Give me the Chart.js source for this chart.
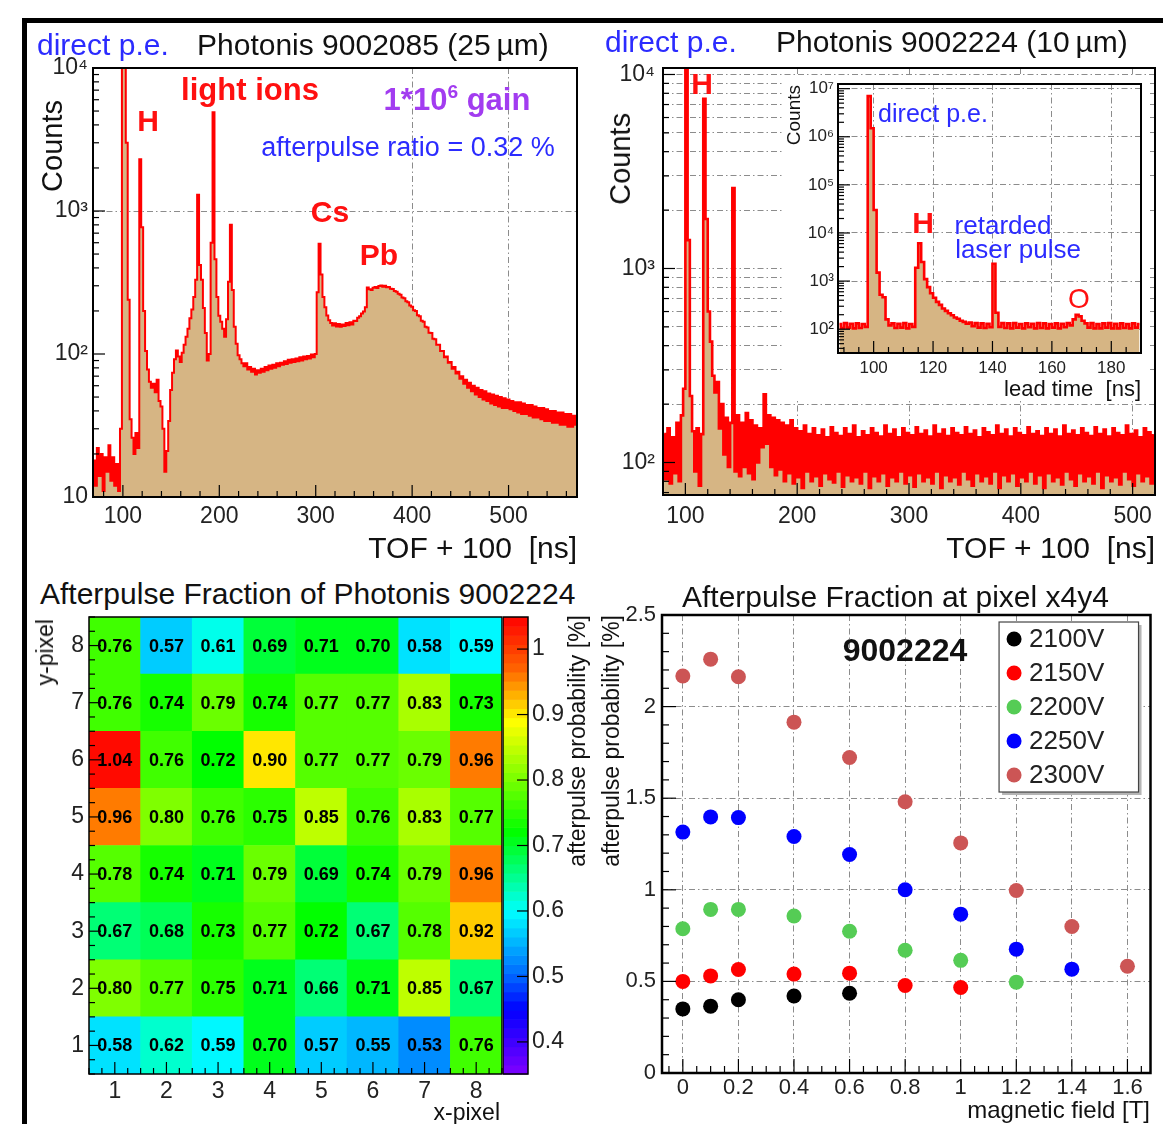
<!DOCTYPE html>
<html>
<head>
<meta charset="utf-8">
<script src="https://cdn.jsdelivr.net/npm/chart.js@4.4.1/dist/chart.umd.min.js"></script>
<style>
html, body { margin: 0; padding: 0; background: #fff; }
body { position: relative; width: 1163px; height: 1124px; overflow: hidden; font-family: "Liberation Sans", Arial, Helvetica, sans-serif; color: #111; }
canvas { position: absolute; }
#inset { background: #fff; }
.t { position: absolute; white-space: nowrap; line-height: 1; }
.c { transform: translate(-50%, -50%); }
.l { transform: translateY(-50%); }
.r { transform: translate(-100%, -50%); }
.v { writing-mode: vertical-rl; transform: rotate(180deg); }
.b { font-weight: bold; }
.red { color: #ff1010; }
.blue { color: #2b2bff; }
.violet { color: #a23cf0; }
sup { font-size: 62%; vertical-align: 0; position: relative; top: -0.6em; }
.bar { position: absolute; background: #000; }
</style>
</head>
<body>
<canvas id="tof1"></canvas>
<canvas id="tof2"></canvas>
<canvas id="inset"></canvas>
<canvas id="heat"></canvas>
<canvas id="cbar"></canvas>
<canvas id="field"></canvas>

<!-- top left -->
<div class="t l blue" style="left:37px;top:45px;font-size:30px">direct p.e.</div>
<div class="t l" style="left:197px;top:45px;font-size:30px">Photonis 9002085 (25&#8201;µm)</div>
<div class="t v" style="left:38px;top:100px;font-size:29px">Counts</div>
<div class="t r" style="left:577px;top:548px;font-size:30px">TOF + 100&nbsp;&nbsp;[ns]</div>
<div class="t c b red" style="left:148px;top:121px;font-size:30px">H</div>
<div class="t c b red" style="left:250px;top:89px;font-size:31px">light ions</div>
<div class="t c b violet" style="left:457px;top:99px;font-size:31px">1*10<sup>6</sup> gain</div>
<div class="t c blue" style="left:408px;top:147px;font-size:27px">afterpulse ratio = 0.32 %</div>
<div class="t c b red" style="left:330px;top:212px;font-size:30px">Cs</div>
<div class="t c b red" style="left:379px;top:255px;font-size:30px">Pb</div>

<!-- top right -->
<div class="t l blue" style="left:605px;top:42px;font-size:30px">direct p.e.</div>
<div class="t l" style="left:776px;top:42px;font-size:30px">Photonis 9002224 (10&#8201;µm)</div>
<div class="t v" style="left:606px;top:113px;font-size:29px">Counts</div>
<div class="t r" style="left:1155px;top:548px;font-size:30px">TOF + 100&nbsp;&nbsp;[ns]</div>
<div class="t c b red" style="left:702px;top:84px;font-size:30px">H</div>
<div class="t v" style="left:784px;top:85px;font-size:19px">Counts</div>
<div class="t c blue" style="left:933px;top:113px;font-size:25px">direct p.e.</div>
<div class="t c b red" style="left:923px;top:223px;font-size:30px">H</div>
<div class="t c blue" style="left:1003px;top:225px;font-size:26px">retarded</div>
<div class="t c blue" style="left:1018px;top:249px;font-size:26px">laser pulse</div>
<div class="t c red" style="left:1079px;top:299px;font-size:28px">O</div>
<div class="t r" style="left:1141px;top:389px;font-size:22px">lead time&nbsp;&nbsp;[ns]</div>

<!-- bottom left -->
<div class="t l" style="left:40px;top:594px;font-size:30px">Afterpulse Fraction of Photonis 9002224</div>
<div class="t v" style="left:34px;top:619px;font-size:23px">y-pixel</div>
<div class="t r" style="left:500px;top:1112px;font-size:23px">x-pixel</div>
<div class="t v" style="left:566px;top:615px;font-size:23px">afterpulse probability [%]</div>

<!-- bottom right -->
<div class="t l" style="left:682px;top:597px;font-size:30px">Afterpulse Fraction at pixel x4y4</div>
<div class="t v" style="left:600px;top:615px;font-size:23px">afterpulse probability [%]</div>
<div class="t r" style="left:1150px;top:1110px;font-size:24px">magnetic field [T]</div>
<div class="t c b" style="left:905px;top:650px;font-size:32px">9002224</div>

<div class="bar" style="left:22px;top:18px;width:1141px;height:5px"></div>
<div class="bar" style="left:22px;top:18px;width:5px;height:1106px"></div>

<script>
// ---- spectra (counts per bin) ----
const tof1Start = 69, tof1Bin = 2;           // TOF + 100 [ns], 9002085
const tof1Counts = [
  18, 12, 22, 14, 20, 11, 19, 15, 23, 13,
  19, 12, 17, 11, 30, 30000, 30000, 3000, 240, 35,
  26, 20, 28, 22, 2300, 770, 200, 105, 78, 64,
  58, 62, 54, 66, 47, 43, 30, 15, 21, 34,
  56, 74, 92, 106, 96, 88, 102, 116, 132, 150,
  178, 205, 250, 330, 1300, 420, 330, 210, 140, 90,
  100, 600, 4900, 460, 250, 185, 168, 150, 132, 175,
  320, 800, 280, 155, 118, 98, 92, 86, 82, 86,
  78, 81, 75, 79, 72, 77, 74, 79, 75, 81,
  77, 83, 79, 84, 80, 86, 82, 87, 84, 89,
  85, 91, 87, 92, 88, 93, 89, 95, 90, 96,
  92, 97, 93, 99, 95, 100, 270, 590, 360, 250,
  212, 186, 172, 165, 158, 164, 156, 162, 155, 161,
  157, 165, 159, 167, 161, 171, 170, 179, 184, 192,
  198, 212, 292, 284, 280, 291, 294, 290, 299, 301,
  295, 300, 293, 294, 286, 285, 276, 273, 264, 260,
  248, 245, 234, 230, 218, 214, 202, 200, 187, 184,
  171, 168, 155, 153, 141, 140, 128, 127, 116, 116,
  105, 105, 95, 96, 87, 88, 79, 81, 73, 75,
  67, 70, 62, 66, 58, 63, 55, 60, 52, 58,
  50, 56, 48, 55, 47, 53, 45, 52, 44, 51,
  43, 50, 42, 49, 42, 48, 41, 47, 40, 46,
  39, 46, 38, 45, 38, 44, 37, 44, 36, 43,
  36, 42, 35, 42, 34, 41, 34, 40, 33, 40,
  33, 39, 32, 39, 32, 38, 31, 38, 31, 37,
  32
];

const tof2Start = 80, tof2Bin = 2;           // TOF + 100 [ns], 9002224
const tof2Counts = [
  140, 82, 150, 78, 135, 88, 160, 80, 175, 240,
  30000, 1400, 220, 145, 90, 150, 76, 140, 7500, 1800,
  600, 420, 280, 230, 260, 150, 200, 110, 170, 95,
  160, 2600, 90, 175, 85, 160, 95, 180, 88, 165,
  82, 155, 100, 150, 120, 225, 125, 175, 95, 170,
  86, 165, 92, 160, 80, 155, 88, 165, 78, 150,
  84, 145, 74, 155, 90, 140, 80, 150, 85, 138,
  76, 148, 88, 135, 82, 152, 79, 142, 90, 137,
  75, 150, 86, 140, 80, 155, 84, 135, 78, 145,
  90, 138, 74, 150, 85, 142, 80, 136, 88, 155,
  76, 140, 84, 148, 80, 135, 90, 150, 78, 142,
  86, 138, 75, 152, 88, 140, 80, 146, 84, 136,
  78, 155, 90, 140, 74, 148, 86, 137, 80, 150,
  84, 142, 77, 138, 90, 152, 82, 140, 76, 146,
  88, 135, 80, 150, 85, 143, 78, 138, 90, 155,
  74, 140, 86, 148, 80, 136, 88, 150, 76, 142,
  84, 138, 80, 152, 90, 140, 78, 145, 86, 137,
  74, 150, 88, 140, 80, 148, 84, 136, 77, 155,
  90, 140, 82, 146, 76, 138, 88, 150, 80, 142,
  85, 137, 78, 152, 90, 140, 74, 148, 86, 136,
  80, 150, 84, 142, 77, 138, 90, 155, 82, 140,
  76, 146, 88, 135, 80, 150, 85, 143, 78, 138
];

const leadStart = 88, leadBin = 1;           // lead time [ns], inset
const leadCounts = [
  128, 106, 134, 108, 130, 104, 132, 106, 128, 112,
  7000000, 1500000, 30000, 1500, 520, 460, 160, 120, 132, 106,
  130, 108, 134, 104, 128, 112, 1900, 6100, 2500, 1100,
  750, 560, 450, 370, 320, 270, 240, 215, 195, 175,
  165, 150, 142, 130, 138, 116, 134, 108, 132, 106,
  130, 110, 2300, 220, 112, 134, 106, 132, 104, 134,
  108, 128, 104, 132, 110, 130, 104, 134, 106, 132,
  104, 128, 108, 132, 104, 130, 110, 134, 120, 160,
  200, 185, 150, 132, 108, 134, 104, 128, 104, 132,
  108, 134, 104, 130, 104, 132, 106, 128, 104, 132,
  108, 128
];

// ---- afterpulse map, rows from y-pixel 1 (bottom) to 8 (top) ----
const pixelX = [1, 2, 3, 4, 5, 6, 7, 8];
const pixelY = [1, 2, 3, 4, 5, 6, 7, 8];
const fractionRows = [
  [0.58, 0.62, 0.59, 0.70, 0.57, 0.55, 0.53, 0.76],
  [0.80, 0.77, 0.75, 0.71, 0.66, 0.71, 0.85, 0.67],
  [0.67, 0.68, 0.73, 0.77, 0.72, 0.67, 0.78, 0.92],
  [0.78, 0.74, 0.71, 0.79, 0.69, 0.74, 0.79, 0.96],
  [0.96, 0.80, 0.76, 0.75, 0.85, 0.76, 0.83, 0.77],
  [1.04, 0.76, 0.72, 0.90, 0.77, 0.77, 0.79, 0.96],
  [0.76, 0.74, 0.79, 0.74, 0.77, 0.77, 0.83, 0.73],
  [0.76, 0.57, 0.61, 0.69, 0.71, 0.70, 0.58, 0.59]
];

// ---- afterpulse vs magnetic field at x4y4 ----
const fieldT = [0, 0.1, 0.2, 0.4, 0.6, 0.8, 1.0, 1.2, 1.4, 1.6];
const voltages = ['2100V', '2150V', '2200V', '2250V', '2300V'];
const ap2100V = [0.35, 0.365, 0.40, 0.42, 0.435];
const ap2150V = [0.50, 0.53, 0.565, 0.54, 0.545, 0.478, 0.467];
const ap2200V = [0.787, 0.893, 0.893, 0.857, 0.774, 0.670, 0.615, 0.496];
const ap2250V = [1.315, 1.398, 1.394, 1.291, 1.193, 1.00, 0.867, 0.676, 0.567];
const ap2300V = [2.167, 2.259, 2.163, 1.915, 1.722, 1.481, 1.256, 0.996, 0.80, 0.583];

// ---- look ----
Chart.defaults.font.family = '"Liberation Sans", Arial, sans-serif';
Chart.defaults.color = '#222';
const tan = '#d6b584', red = '#ff0000', gridGrey = '#8c8c8c';
const dashDot = [6, 3, 1.5, 3];
const voltColors = ['#000000', '#ff0000', '#55cc55', '#0000ff', '#cc5555'];
const zMin = 0.351, zMax = 1.049, zLevels = 50;
const paletteStops = [
  [0.35, [128, 0, 255]], [0.45, [0, 0, 255]], [0.50, [0, 100, 255]], [0.60, [0, 255, 255]],
  [0.72, [0, 255, 0]], [0.89, [255, 255, 0]], [0.97, [255, 100, 0]], [1.05, [255, 0, 0]]
];

function paletteRaw(v) {
  const s = paletteStops;
  if (v <= s[0][0]) return s[0][1];
  for (let i = 1; i < s.length; i++) {
    if (v <= s[i][0]) {
      const t = (v - s[i - 1][0]) / (s[i][0] - s[i - 1][0]);
      return s[i - 1][1].map((c, k) => Math.round(c + t * (s[i][1][k] - c)));
    }
  }
  return s[s.length - 1][1];
}
// ROOT palettes are stepped: colour of the level a value falls in
function palette(v) {
  const w = (zMax - zMin) / zLevels;
  const lvl = Math.min(zLevels - 1, Math.max(0, Math.floor((v - zMin) / w)));
  const c = paletteRaw(zMin + (lvl + 0.5) * w);
  return `rgb(${c[0]},${c[1]},${c[2]})`;
}

const SUP = '\u2070\u00b9\u00b2\u00b3\u2074\u2075\u2076\u2077\u2078\u2079';
function isPow10(v) {
  const e = Math.round(Math.log10(v));
  return Math.abs(v - Math.pow(10, e)) < 1e-6 * v;
}
function powLabel(v) {
  if (!isPow10(v)) return '';
  const e = Math.round(Math.log10(v));
  return e === 1 ? '10' : '10' + String(e).split('').map(d => SUP[+d]).join('');
}

function binned(start, width, counts) {
  return counts.map((c, i) => ({ x: start + (i + 0.5) * width, y: c }));
}

function place(id, area, pad) {
  const c = document.getElementById(id);
  const w = area.r - area.l + pad.l + pad.r;
  const h = area.b - area.t + pad.t + pad.b;
  c.width = w; c.height = h;
  c.style.left = (area.l - pad.l) + 'px';
  c.style.top = (area.t - pad.t) + 'px';
  c.style.width = w + 'px';
  c.style.height = h + 'px';
  return c;
}

// pin the axis box size so the plot frame lands where the picture has it
function fit(size) {
  return (s) => {
    if (s.isHorizontal()) s.height = size; else s.width = size;
    s.paddingLeft = s.paddingRight = s.paddingTop = s.paddingBottom = 0;
  };
}

function decadeTicks(s) {
  const t = [];
  for (let e = Math.floor(Math.log10(s.min)); e <= Math.ceil(Math.log10(s.max)); e++) {
    for (let k = 1; k < 10; k++) {
      const v = k * Math.pow(10, e);
      if (v >= s.min && v <= s.max) t.push({ value: v });
    }
  }
  s.ticks = t;
}

// plain multiples of the step inside the axis range
function stepTicks(step) {
  return (s) => {
    const t = [];
    for (let k = Math.ceil(s.min / step - 1e-9); k * step <= s.max + 1e-9; k++) {
      t.push({ value: Math.round(k * step * 1e6) / 1e6 });
    }
    s.ticks = t;
  };
}

function logAxis(min, max, size, pad, font, showGrid) {
  return {
    type: 'logarithmic', min, max,
    afterFit: fit(size), afterBuildTicks: decadeTicks,
    grid: { drawTicks: false, lineWidth: 1, color: c => (c.tick && showGrid(c.tick.value)) ? gridGrey : 'transparent' },
    border: { display: false, dash: dashDot },
    ticks: { autoSkip: false, padding: pad, font: { size: font }, color: '#222', callback: v => powLabel(v) }
  };
}

function linAxis(min, max, step, size, pad, font, showGrid) {
  return {
    type: 'linear', min, max,
    afterFit: fit(size), afterBuildTicks: stepTicks(step),
    grid: { drawTicks: false, lineWidth: 1, color: c => (c.tick && showGrid(c.tick.value)) ? gridGrey : 'transparent' },
    border: { display: false, dash: dashDot },
    ticks: {
      autoSkip: false, maxRotation: 0, minRotation: 0,
      padding: pad, font: { size: font }, color: '#222',
      callback: v => String(Math.round(v * 1000) / 1000)
    }
  };
}

// ---- plugins ----
const frame = {
  id: 'frame',
  afterDatasetsDraw(chart, args, o) {
    const a = chart.chartArea, ctx = chart.ctx;
    ctx.save();
    ctx.strokeStyle = '#000';
    ctx.lineWidth = o.width || 2;
    ctx.strokeRect(a.left, a.top, a.right - a.left, a.bottom - a.top);
    ctx.restore();
  }
};

function tickMarks(s, n) {
  const out = [];
  if (s.type === 'logarithmic') {
    s.ticks.forEach(t => out.push({ v: t.value, major: isPow10(t.value) }));
    return out;
  }
  const major = s.ticks.map(t => t.value);
  major.forEach(v => out.push({ v, major: true }));
  if (n > 1 && major.length > 1) {
    const step = (major[1] - major[0]) / n;
    for (let v = major[0] - step; v >= s.min - 1e-9; v -= step) out.push({ v, major: false });
    major.forEach(m => {
      for (let k = 1; k < n; k++) {
        const v = m + k * step;
        if (v <= s.max + 1e-9) out.push({ v, major: false });
      }
    });
  }
  return out;
}

// ROOT-style tick marks pointing into the frame
const rootTicks = {
  id: 'rootTicks',
  afterDatasetsDraw(chart, args, o) {
    const ctx = chart.ctx, a = chart.chartArea;
    ctx.save();
    ctx.strokeStyle = '#000';
    ctx.lineWidth = 1.2;
    ['x', 'y'].forEach(id => {
      const s = chart.scales[id];
      if (!s || s.options.display === false) return;
      const len = o.len || 12;
      const minor = (o.minor && o.minor[id]) || 0;
      tickMarks(s, minor).forEach(m => {
        const p = s.getPixelForValue(m.v);
        const l = m.major ? len : len / 2;
        ctx.beginPath();
        if (id === 'x') { ctx.moveTo(p, a.bottom); ctx.lineTo(p, a.bottom - l); }
        else if (s.position === 'right') { ctx.moveTo(a.right, p); ctx.lineTo(a.right - l, p); }
        else { ctx.moveTo(a.left, p); ctx.lineTo(a.left + l, p); }
        ctx.stroke();
      });
    });
    ctx.restore();
  }
};

const cellText = {
  id: 'cellText',
  afterDatasetsDraw(chart) {
    const ctx = chart.ctx;
    ctx.save();
    ctx.font = 'bold 18px "Liberation Sans", Arial, sans-serif';
    ctx.fillStyle = '#000';
    ctx.textAlign = 'center';
    ctx.textBaseline = 'middle';
    chart.data.datasets.forEach((ds, d) => {
      chart.getDatasetMeta(d).data.forEach((bar, i) => {
        ctx.fillText(ds.data[i].v.toFixed(2), bar.x, (bar.y + bar.base) / 2 + 1);
      });
    });
    ctx.restore();
  }
};

const colorScale = {
  id: 'colorScale',
  beforeDatasetsDraw(chart) {
    const s = chart.scales.y, a = chart.chartArea, ctx = chart.ctx;
    for (let i = 0; i < zLevels; i++) {
      const v0 = s.min + (s.max - s.min) * i / zLevels;
      const v1 = s.min + (s.max - s.min) * (i + 1) / zLevels;
      const y0 = s.getPixelForValue(v0), y1 = s.getPixelForValue(v1);
      ctx.fillStyle = palette((v0 + v1) / 2);
      ctx.fillRect(a.left, y1, a.right - a.left, y0 - y1 + 0.6);
    }
  }
};

const boxLegend = {
  id: 'boxLegend',
  afterDatasetsDraw(chart, args, o) {
    const a = chart.chartArea, ctx = chart.ctx;
    const w = a.right - a.left, h = a.bottom - a.top;
    const x0 = a.left + o.x0 * w, x1 = a.left + o.x1 * w;
    const y0 = a.top + o.y0 * h, y1 = a.top + o.y1 * h;
    ctx.save();
    ctx.fillStyle = '#b5b5b5';
    ctx.fillRect(x0 + 3, y0 + 3, x1 - x0, y1 - y0);
    ctx.fillStyle = '#fff';
    ctx.fillRect(x0, y0, x1 - x0, y1 - y0);
    ctx.strokeStyle = '#444';
    ctx.lineWidth = 1.2;
    ctx.strokeRect(x0, y0, x1 - x0, y1 - y0);
    const sets = chart.data.datasets, rowH = (y1 - y0) / sets.length;
    ctx.font = o.font;
    ctx.textBaseline = 'middle';
    sets.forEach((ds, i) => {
      const cy = y0 + rowH * (i + 0.5);
      ctx.fillStyle = ds.backgroundColor;
      ctx.beginPath();
      ctx.arc(x0 + 15, cy, ds.pointRadius, 0, Math.PI * 2);
      ctx.fill();
      ctx.fillStyle = '#222';
      ctx.fillText(ds.label, x0 + 30, cy + 1);
    });
    ctx.restore();
  }
};

const quiet = { legend: { display: false }, tooltip: { enabled: false } };

function histogram(id, area, pad, points, lw, x, y, frameW, minorX) {
  const canvas = place(id, area, pad);
  return new Chart(canvas, {
    type: 'line',
    data: {
      datasets: [{
        data: points, stepped: 'middle', borderColor: red, borderWidth: lw,
        backgroundColor: tan, fill: 'start', pointRadius: 0, borderJoinStyle: 'miter'
      }]
    },
    options: {
      responsive: false, animation: false, events: [],
      layout: { padding: { top: pad.t, right: pad.r, left: 0, bottom: 0 } },
      plugins: Object.assign({}, quiet, {
        frame: { width: frameW },
        rootTicks: { len: 12, minor: { x: minorX } }
      }),
      scales: { x, y }
    },
    plugins: [frame, rootTicks]
  });
}

// ---- top left: 9002085 ----
{
  const area = { l: 93, t: 68, r: 577, b: 497 }, pad = { l: 72, t: 16, r: 4, b: 40 };
  histogram('tof1', area, pad, binned(tof1Start, tof1Bin, tof1Counts), 2,
    linAxis(69, 571, 100, pad.b, 6, 23, v => v >= 400),
    logAxis(10, 10000, pad.l, 5, 23, v => v === 1000), 2, 5);
}

// ---- top right: 9002224 ----
{
  const area = { l: 663, t: 68, r: 1155, b: 495 }, pad = { l: 72, t: 16, r: 6, b: 40 };
  histogram('tof2', area, pad, binned(tof2Start, tof2Bin, tof2Counts), 2.6,
    linAxis(80, 520, 100, pad.b, 8, 23, v => true),
    logAxis(68, 10800, pad.l, 8, 23, v => true), 2, 5);
}

// ---- inset: lead time ----
{
  const area = { l: 838, t: 84, r: 1141, b: 353 }, pad = { l: 56, t: 9, r: 9, b: 47 };
  histogram('inset', area, pad, binned(leadStart, leadBin, leadCounts), 2.6,
    linAxis(88, 190, 20, pad.b, 5, 17, v => true),
    logAxis(32, 12500000, pad.l, 4, 17, v => isPow10(v)), 2, 4);
}

// ---- bottom left: pixel map ----
{
  const area = { l: 89, t: 617, r: 502, b: 1074 }, pad = { l: 50, t: 4, r: 1, b: 36 };
  const canvas = place('heat', area, pad);
  const x = Object.assign(linAxis(0.5, 8.5, 1, pad.b, 4, 23, () => false), { offset: false });
  x.grid.offset = false;
  new Chart(canvas, {
    type: 'bar',
    data: {
      datasets: pixelY.map((py, r) => ({
        data: pixelX.map((px, c) => ({ x: px, y: [py - 0.5, py + 0.5], v: fractionRows[r][c] })),
        backgroundColor: pixelX.map((px, c) => palette(fractionRows[r][c])),
        borderWidth: 0, grouped: false, barPercentage: 1, categoryPercentage: 1
      }))
    },
    options: {
      responsive: false, animation: false, events: [],
      layout: { padding: { top: pad.t, right: pad.r, left: 0, bottom: 0 } },
      plugins: Object.assign({}, quiet, { frame: { width: 1.5 }, rootTicks: { len: 12, minor: { x: 4, y: 4 } } }),
      scales: { x, y: linAxis(0.5, 8.5, 1, pad.l, 5, 23, () => false) }
    },
    plugins: [cellText, frame, rootTicks]
  });
}

// ---- colour scale ----
{
  const area = { l: 503, t: 617, r: 528, b: 1074 }, pad = { l: 0, t: 4, r: 42, b: 4 };
  const canvas = place('cbar', area, pad);
  new Chart(canvas, {
    type: 'scatter',
    data: { datasets: [] },
    options: {
      responsive: false, animation: false, events: [],
      layout: { padding: { top: pad.t, right: 0, left: 0, bottom: pad.b } },
      plugins: Object.assign({}, quiet, { frame: { width: 1.5 }, rootTicks: { len: 11 } }),
      scales: {
        x: { display: false, min: 0, max: 1 },
        y: Object.assign(linAxis(zMin, zMax, 0.1, pad.r, 4, 23, () => false), { position: 'right' })
      }
    },
    plugins: [colorScale, frame, rootTicks]
  });
}

// ---- bottom right: afterpulse vs field ----
{
  const area = { l: 662, t: 615, r: 1152, b: 1073 }, pad = { l: 45, t: 16, r: 6, b: 34 };
  const canvas = place('field', area, pad);
  const series = [ap2100V, ap2150V, ap2200V, ap2250V, ap2300V];
  new Chart(canvas, {
    type: 'scatter',
    data: {
      datasets: voltages.map((label, i) => ({
        label,
        data: series[i].map((y, j) => ({ x: fieldT[j], y })),
        backgroundColor: voltColors[i], borderWidth: 0,
        pointRadius: 7.5, pointStyle: 'circle'
      }))
    },
    options: {
      responsive: false, animation: false, events: [],
      layout: { padding: { top: pad.t, right: pad.r, left: 0, bottom: 0 } },
      plugins: Object.assign({}, quiet, {
        frame: { width: 2.5 },
        rootTicks: { len: 14, minor: { x: 4, y: 5 } },
        boxLegend: { x0: 0.690, x1: 0.9755, y0: 0.0153, y1: 0.3865, font: '26px "Liberation Sans", Arial, sans-serif' }
      }),
      scales: {
        x: linAxis(-0.075, 1.683, 0.2, pad.b, 2, 22, v => true),
        y: linAxis(0, 2.5, 0.5, pad.l, 6, 22, v => v > 0.01 && v < 2.49)
      }
    },
    plugins: [frame, rootTicks, boxLegend]
  });
}
</script>
</body>
</html>
